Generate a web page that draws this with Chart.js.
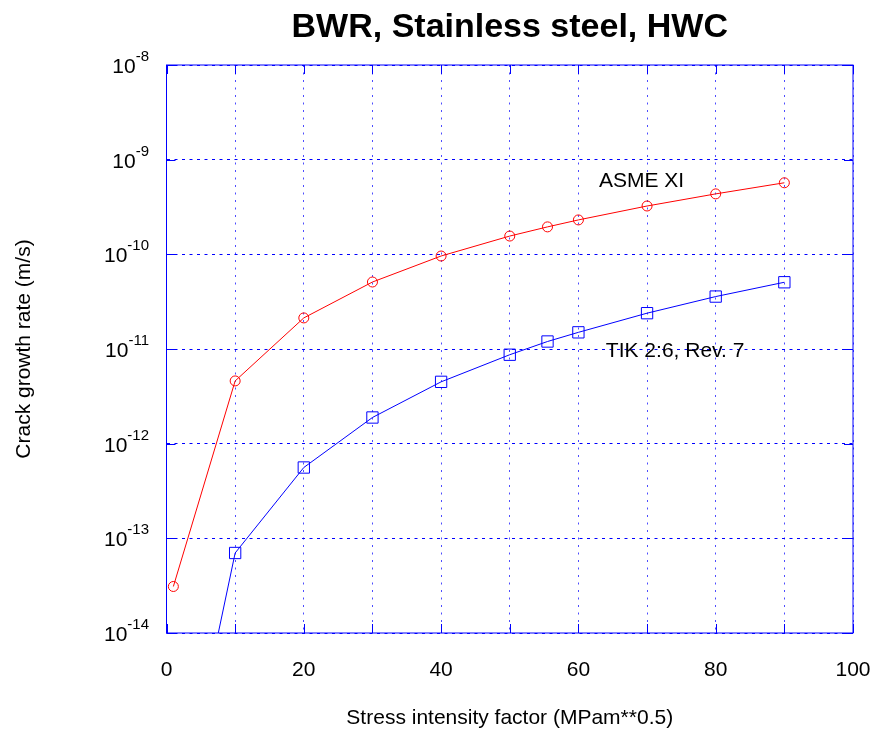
<!DOCTYPE html>
<html lang="en">
<head>
<meta charset="UTF-8">
<title>BWR, Stainless steel, HWC</title>
<script src="https://cdn.jsdelivr.net/npm/chart.js"></script>
<style>
    body {
        margin: 0;
        background-color: #fff;
    }
    canvas {
        display: block;
    }
</style>
</head>
<body>
<canvas id="crackChart" width="875" height="736"></canvas>

<script>
    // stress intensity factor, MPa*m^0.5
    const kValues = [1, 10, 20, 30, 40, 50, 55.5, 60, 70, 80, 90];
    // crack growth rate, m/s
    const asmeRates = [3.1e-14, 4.6e-12, 2.13e-11, 5.1e-11, 9.6e-11, 1.56e-10, 1.95e-10, 2.31e-10, 3.24e-10, 4.35e-10, 5.7e-10];
    const tikRates = [5.6e-17, 7.0e-14, 5.6e-13, 1.89e-12, 4.5e-12, 8.7e-12, 1.2e-11, 1.5e-11, 2.39e-11, 3.58e-11, 5.07e-11];
    const yExponents = [-14, -13, -12, -11, -10, -9, -8];
    const xTicks = [0, 10, 20, 30, 40, 50, 60, 70, 80, 90, 100];

    const FONT = '"Liberation Sans", Arial, sans-serif';
    const BLUE = '#0000ff';
    const RED = '#ff0000';

    function toPoints(xs, ys) {
        return xs.map((x, i) => ({ x: x, y: ys[i] }));
    }

    // title, superscript tick labels, box with inward ticks, curve labels
    const decorPlugin = {
        id: 'decor',
        afterDraw(chart) {
            const ctx = chart.ctx;
            const area = chart.chartArea;
            const xs = chart.scales.x;
            const ys = chart.scales.y;
            ctx.save();

            ctx.fillStyle = '#000';
            ctx.textAlign = 'center';
            ctx.textBaseline = 'alphabetic';
            ctx.font = 'bold 34px ' + FONT;
            ctx.fillText('BWR, Stainless steel, HWC', (area.left + area.right) / 2, 37);

            ctx.textAlign = 'right';
            yExponents.forEach(e => {
                const py = ys.getPixelForValue(Math.pow(10, e));
                const expText = '-' + Math.abs(e);
                ctx.font = '15px ' + FONT;
                const w = ctx.measureText(expText).width;
                ctx.fillText(expText, 149, py - 4);
                ctx.font = '21px ' + FONT;
                ctx.fillText('10', 149 - w, py + 8);
            });

            ctx.strokeStyle = BLUE;
            ctx.lineWidth = 1;
            ctx.setLineDash([]);
            ctx.strokeRect(area.left, area.top, area.right - area.left, area.bottom - area.top);
            ctx.beginPath();
            xTicks.forEach(v => {
                const px = Math.round(xs.getPixelForValue(v)) + 0.5;
                ctx.moveTo(px, area.bottom); ctx.lineTo(px, area.bottom - 9);
                ctx.moveTo(px, area.top); ctx.lineTo(px, area.top + 9);
            });
            yExponents.forEach(e => {
                const py = Math.round(ys.getPixelForValue(Math.pow(10, e))) + 0.5;
                ctx.moveTo(area.left, py); ctx.lineTo(area.left + 9, py);
                ctx.moveTo(area.right, py); ctx.lineTo(area.right - 9, py);
            });
            ctx.stroke();

            ctx.fillStyle = '#000';
            ctx.textAlign = 'left';
            ctx.font = '21px ' + FONT;
            ctx.fillText('ASME XI', xs.getPixelForValue(63), ys.getPixelForValue(5.15e-10));
            ctx.fillText('TIK 2:6, Rev. 7', xs.getPixelForValue(64), ys.getPixelForValue(8.26e-12));
            ctx.restore();
        }
    };

    const chart = new Chart(document.getElementById('crackChart'), {
        type: 'line',
        data: {
            datasets: [{
                label: 'ASME XI',
                data: toPoints(kValues, asmeRates),
                borderColor: RED,
                borderWidth: 1,
                pointStyle: 'circle',
                pointRadius: 5,
                pointBorderColor: RED,
                pointBackgroundColor: 'rgba(0,0,0,0)',
                pointBorderWidth: 1,
                fill: false,
                tension: 0
            }, {
                label: 'TIK 2:6, Rev. 7',
                data: toPoints(kValues, tikRates),
                borderColor: BLUE,
                borderWidth: 1,
                pointStyle: 'rect',
                pointRadius: 8,
                pointBorderColor: BLUE,
                pointBackgroundColor: 'rgba(0,0,0,0)',
                pointBorderWidth: 1,
                fill: false,
                tension: 0
            }]
        },
        options: {
            responsive: false,
            animation: false,
            layout: {
                padding: { left: 0, right: 22, top: 65, bottom: 0 }
            },
            plugins: {
                legend: { display: false },
                title: { display: false },
                tooltip: { enabled: false }
            },
            scales: {
                x: {
                    type: 'linear',
                    min: 0,
                    max: 100,
                    afterBuildTicks: scale => {
                        scale.ticks = xTicks.map(v => ({ value: v }));
                    },
                    afterFit: scale => {
                        scale.height = 103;
                        scale.paddingLeft = 0;
                        scale.paddingRight = 0;
                    },
                    grid: {
                        color: 'rgba(0,0,255,0.7)',
                        lineWidth: 1,
                        drawTicks: false
                    },
                    border: { display: false, dash: [2, 5.5] },
                    ticks: {
                        color: '#000',
                        padding: 25,
                        maxRotation: 0,
                        autoSkip: false,
                        font: { family: FONT, size: 21 },
                        callback: v => (v % 20 === 0 ? String(v) : '')
                    },
                    title: {
                        display: true,
                        text: 'Stress intensity factor (MPam**0.5)',
                        color: '#000',
                        font: { family: FONT, size: 21 },
                        padding: { top: 4, bottom: 5 }
                    }
                },
                y: {
                    type: 'logarithmic',
                    min: 1e-14,
                    max: 1e-8,
                    afterBuildTicks: scale => {
                        scale.ticks = yExponents.map(e => ({ value: Math.pow(10, e) }));
                    },
                    afterFit: scale => {
                        scale.width = 166.5;
                        scale.paddingTop = 0;
                        scale.paddingBottom = 0;
                    },
                    grid: {
                        color: BLUE,
                        lineWidth: 1,
                        drawTicks: false
                    },
                    border: { display: false, dash: [3, 4.5] },
                    ticks: { display: false },
                    title: {
                        display: true,
                        text: 'Crack growth rate (m/s)',
                        color: '#000',
                        font: { family: FONT, size: 21 },
                        padding: { top: 12, bottom: 4 }
                    }
                }
            }
        },
        plugins: [decorPlugin]
    });
</script>
</body>
</html>
